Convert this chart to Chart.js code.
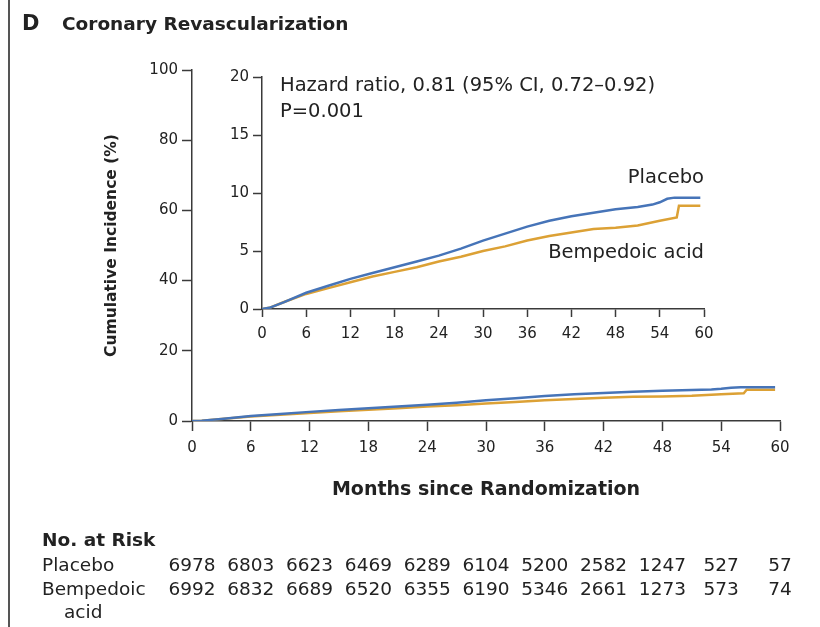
<!DOCTYPE html>
<html>
<head>
<meta charset="utf-8">
<script src="https://cdn.jsdelivr.net/npm/chart.js@4"></script>
<style>
  html, body { margin: 0; padding: 0; background: #fff; }
  #wrap { position: relative; width: 820px; height: 627px; overflow: hidden; }
  #main { position: absolute; left: 0; top: 0; }
  #inset { position: absolute; left: 200px; top: 40px; }
</style>
</head>
<body>
<div id="wrap">
  <canvas id="main" width="820" height="627"></canvas>
  <canvas id="inset" width="540" height="320"></canvas>
</div>
<script>
// values (months, cumulative incidence %)
const placeboMonths = [0, 1, 3, 6, 9, 12, 15, 18, 21, 24, 27, 30, 33, 36, 39, 42, 45, 48, 51, 53, 54, 55, 56, 59.5];
const placeboPct    = [0, 0.1, 0.6, 1.4, 2.0, 2.6, 3.1, 3.6, 4.1, 4.6, 5.2, 5.9, 6.5, 7.1, 7.6, 8.0, 8.3, 8.6, 8.8, 9.0, 9.2, 9.5, 9.6, 9.6];
const bempMonths = [0, 1, 3, 6, 9, 12, 15, 18, 21, 24, 27, 30, 33, 36, 39, 42, 45, 48, 51, 54, 56.3, 56.6, 59.5];
const bempPct    = [0, 0.1, 0.6, 1.3, 1.8, 2.3, 2.8, 3.2, 3.6, 4.1, 4.5, 5.0, 5.4, 5.9, 6.3, 6.6, 6.9, 7.0, 7.2, 7.6, 7.9, 8.9, 8.9];

const monthTicks = [0, 6, 12, 18, 24, 30, 36, 42, 48, 54, 60];
const riskPlacebo = [6978, 6803, 6623, 6469, 6289, 6104, 5200, 2582, 1247, 527, 57];
const riskBemp    = [6992, 6832, 6689, 6520, 6355, 6190, 5346, 2661, 1273, 573, 74];

const family = "'DejaVu Sans', sans-serif";
const ink = '#222';
const axisColor = '#3a3a3a';
const blue = '#4674b8';
const gold = '#dca135';

const toPoints = (xs, ys) => xs.map((m, i) => ({x: m, y: ys[i]}));

function datasets() {
  return [
    {label: 'Placebo', data: toPoints(placeboMonths, placeboPct), borderColor: blue},
    {label: 'Bempedoic acid', data: toPoints(bempMonths, bempPct), borderColor: gold}
  ];
}

function axis(min, max, step, extra) {
  return Object.assign({
    type: 'linear', min: min, max: max,
    border: {color: axisColor, width: 1.5},
    grid: {drawOnChartArea: false, color: axisColor, tickWidth: 1.5, tickLength: 10},
    ticks: {stepSize: step, color: ink, font: {family, size: 15}, padding: 4, maxRotation: 0, autoSkip: false}
  }, extra);
}

// title, no-at-risk table and frame line
const mainDecor = {
  id: 'mainDecor',
  afterDraw(chart) {
    const {ctx, scales: {x}} = chart;
    ctx.save();
    ctx.strokeStyle = '#555';
    ctx.lineWidth = 2;
    ctx.beginPath(); ctx.moveTo(9, 0); ctx.lineTo(9, 627); ctx.stroke();

    ctx.fillStyle = ink;
    ctx.textBaseline = 'middle';
    ctx.textAlign = 'left';
    ctx.font = `bold 21px ${family}`;
    ctx.fillText('D', 22, 25);
    ctx.font = `bold 18.5px ${family}`;
    ctx.fillText('Coronary Revascularization', 62, 25);

    ctx.font = `bold 18.5px ${family}`;
    ctx.fillText('No. at Risk', 42, 541);
    ctx.font = `18.5px ${family}`;
    ctx.fillText('Placebo', 42, 566);
    ctx.fillText('Bempedoic', 42, 590);
    ctx.fillText('acid', 64, 613);
    ctx.textAlign = 'center';
    monthTicks.forEach((m, i) => {
      const px = x.getPixelForValue(m);
      ctx.fillText(String(riskPlacebo[i]), px, 566);
      ctx.fillText(String(riskBemp[i]), px, 590);
    });
    ctx.restore();
  }
};

const insetDecor = {
  id: 'insetDecor',
  afterDraw(chart) {
    const {ctx, chartArea: a, scales: {x, y}} = chart;
    ctx.save();
    ctx.fillStyle = ink;
    ctx.textBaseline = 'middle';
    ctx.textAlign = 'left';
    ctx.font = `19.5px ${family}`;
    ctx.fillText('Hazard ratio, 0.81 (95% CI, 0.72\u20130.92)', a.left + 18, a.top + 9);
    ctx.fillText('P=0.001', a.left + 18, a.top + 35);
    ctx.textAlign = 'right';
    ctx.fillText('Placebo', x.getPixelForValue(60), y.getPixelForValue(11.3));
    ctx.fillText('Bempedoic acid', x.getPixelForValue(60), y.getPixelForValue(4.8));
    ctx.restore();
  }
};

const common = {
  responsive: false,
  animation: false,
  plugins: {legend: {display: false}, tooltip: {enabled: false}},
  elements: {point: {radius: 0}, line: {borderWidth: 2.5, tension: 0}}
};

new Chart(document.getElementById('main'), {
  type: 'line',
  data: {datasets: datasets()},
  plugins: [mainDecor],
  options: Object.assign({}, common, {
    layout: {padding: {left: 100, right: 40, top: 70, bottom: 126}},
    scales: {
      x: axis(0, 60, 6, {
        afterFit(s) { s.height = 80; },
        ticks: {stepSize: 6, color: ink, font: {family, size: 15}, padding: 8, maxRotation: 0, autoSkip: false},
        title: {display: true, text: 'Months since Randomization', color: ink,
                font: {family, size: 19, weight: 'bold'}, padding: 0}
      }),
      y: axis(0, 100, 20, {
        afterFit(s) { s.width = 92; },
        title: {display: true, text: 'Cumulative Incidence (%)', color: ink,
                font: {family, size: 15.5, weight: 'bold'}, padding: {top: 3, bottom: 0}}
      })
    }
  })
});

new Chart(document.getElementById('inset'), {
  type: 'line',
  data: {datasets: datasets()},
  plugins: [insetDecor],
  options: Object.assign({}, common, {
    layout: {padding: {left: 0, right: 36, top: 37, bottom: 11}},
    scales: {
      x: axis(0, 60, 6, {
        afterFit(s) { s.height = 40; },
        grid: {drawOnChartArea: false, color: axisColor, tickWidth: 1.5, tickLength: 8},
        ticks: {stepSize: 6, color: ink, font: {family, size: 15}, padding: 8, maxRotation: 0, autoSkip: false}
      }),
      y: axis(0, 20, 5, {
        afterFit(s) { s.width = 62; },
        grid: {drawOnChartArea: false, color: axisColor, tickWidth: 1.5, tickLength: 9}
      })
    }
  })
});
</script>
</body>
</html>
